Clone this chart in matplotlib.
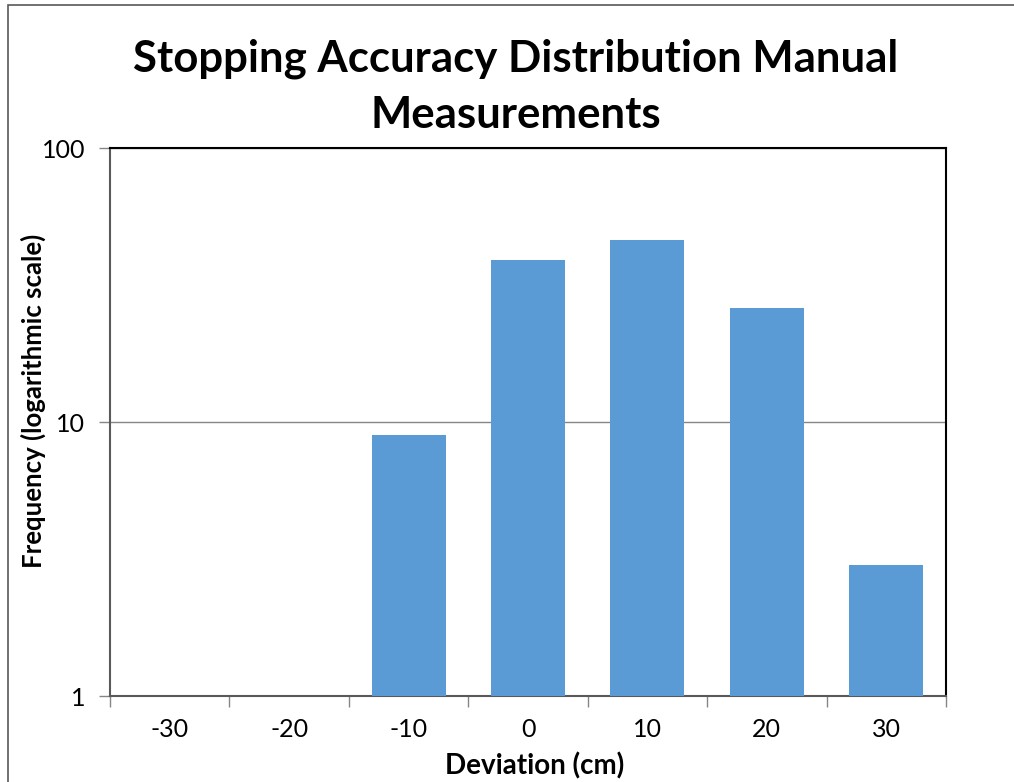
import numpy as np
import matplotlib.pyplot as plt
from matplotlib.patches import Rectangle

# data
deviation = [-30, -20, -10, 0, 10, 20, 30]
frequency = [0, 0, 9, 39, 46, 26, 3]

plt.rcParams['font.family'] = ['Lato', 'DejaVu Sans']

fig = plt.figure(figsize=(10.14, 7.82), dpi=100)
W, H = 1014, 782
ax = fig.add_axes([110 / W, 1 - 696 / H, (946 - 110) / W, (696 - 148) / H])

x = np.arange(len(deviation))
ax.bar(x, frequency, width=0.62, color='#5b9bd5', zorder=3)

ax.set_yscale('log')
ax.set_ylim(1, 100)
ax.set_xlim(-0.5, len(deviation) - 0.5)
ax.set_yticks([1, 10, 100])
ax.set_yticklabels(['1', '10', '100'], fontsize=18)
ax.yaxis.set_minor_locator(plt.NullLocator())
ax.grid(axis='y', color='#868686', linewidth=1, zorder=0)

# category labels in centre, tick marks on category boundaries
ax.set_xticks(x)
ax.set_xticklabels([str(d) for d in deviation], fontsize=18)
ax.tick_params(axis='x', length=0, pad=16)
ax.set_xticks(np.arange(-0.5, len(deviation)), minor=True)
ax.tick_params(axis='x', which='minor', length=8, color='#868686', width=1)
ax.tick_params(axis='y', length=8, color='#868686', width=1, pad=10)

for s in ['left', 'bottom']:
    ax.spines[s].set_color('#595959')
    ax.spines[s].set_linewidth(1.5)
for s in ['top', 'right']:
    ax.spines[s].set_color('black')
    ax.spines[s].set_linewidth(1.5)

ax.set_xlabel('Deviation (cm)', fontsize=20, fontweight='bold', va='center')
ax.xaxis.set_label_coords((535 - 110) / 836, (696 - 766) / 548)
ax.set_ylabel('Frequency (logarithmic scale)', fontsize=18.5, fontweight='bold', va='center')
ax.yaxis.set_label_coords((33 - 110) / 836, (696 - 401) / 548)

fig.text(516 / W, 1 - 87 / H, 'Stopping Accuracy Distribution Manual\nMeasurements',
         ha='center', va='center', fontsize=31.5, fontweight='bold', linespacing=1.5)

# outer chart border (cut off at right and bottom)
fig.patches.append(Rectangle((8 / W, -0.1), 1.2, 1 - 5 / H + 0.1, transform=fig.transFigure,
                             fill=False, edgecolor='#595959', linewidth=1.2))

fig.savefig('out.png', dpi=100)
